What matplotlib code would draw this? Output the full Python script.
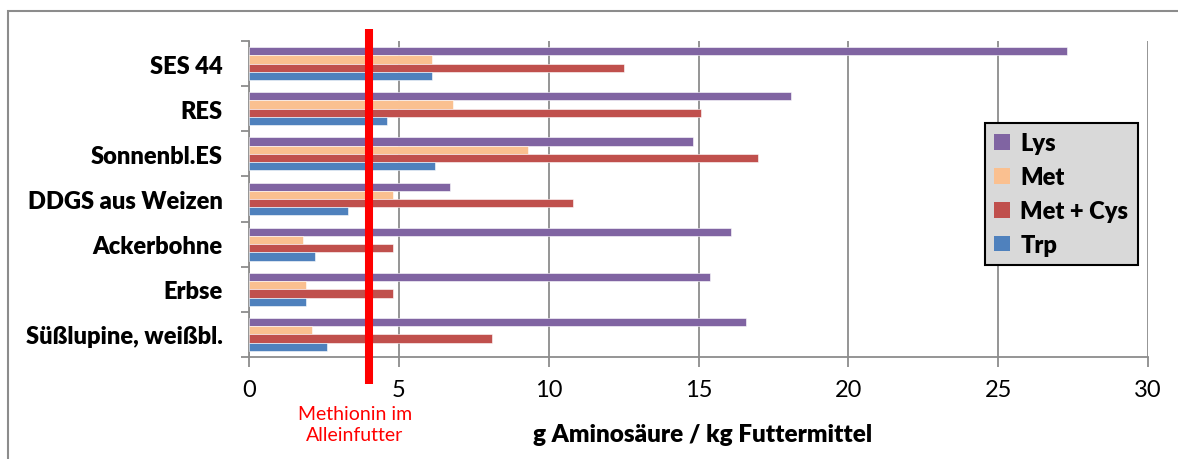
import numpy as np
import matplotlib
matplotlib.use("Agg")
import matplotlib.pyplot as plt
from matplotlib.patches import Rectangle
from matplotlib.transforms import blended_transform_factory

plt.rcParams['font.family'] = ['Lato', 'DejaVu Sans']

categories = ["SES 44", "RES", "Sonnenbl.ES", "DDGS aus Weizen",
              "Ackerbohne", "Erbse", "Süßlupine, weißbl."]
series = ["Lys", "Met", "Met + Cys", "Trp"]
lys = [27.3, 18.1, 14.8, 6.7, 16.1, 15.4, 16.6]
met = [6.1, 6.8, 9.3, 4.8, 1.8, 1.9, 2.1]
met_cys = [12.5, 15.1, 17.0, 10.8, 4.8, 4.8, 8.1]
trp = [6.1, 4.6, 6.2, 3.3, 2.2, 1.9, 2.6]
colors = ["#8064A2", "#FAC090", "#C0504D", "#4F81BD"]
met_limit = 4.0
xticks = [0, 5, 10, 15, 20, 25, 30]

W, H = 1178, 460
fig = plt.figure(figsize=(W / 100, H / 100), dpi=100)
ax = fig.add_axes([249 / W, (H - 358) / H, 899 / W, 316 / H])

n = len(categories)
pos = np.arange(n)[::-1]  # first category on top
bh = 0.182
offsets = [1.5 * bh, 0.5 * bh, -0.5 * bh, -1.5 * bh]
for vals, off, col, name in zip([lys, met, met_cys, trp], offsets, colors, series):
    ax.barh(pos + off, vals, height=bh, color=col, edgecolor='white',
            linewidth=0.4, label=name, zorder=3)

ax.set_xlim(0, 30)
ax.set_ylim(-0.5, n - 0.5)
ax.set_xticks(xticks)
ax.set_xticklabels([str(t) for t in xticks], fontsize=17)
ax.set_yticks(pos)
ax.set_yticklabels(categories, fontsize=17, fontweight='heavy')
ax.set_yticks(np.arange(n + 1) - 0.5, minor=True)
ax.tick_params(axis='y', which='major', length=0, pad=19)
ax.tick_params(axis='y', which='minor', length=6, width=1.3, color='#8c8c8c')
ax.tick_params(axis='x', length=7, width=1.3, color='#8c8c8c', pad=9)
ax.grid(axis='x', color='#8c8c8c', linewidth=1.3, zorder=0)
ax.set_axisbelow(True)
for s in ['top', 'right']:
    ax.spines[s].set_visible(False)
for s in ['left', 'bottom']:
    ax.spines[s].set_color('#8c8c8c')
    ax.spines[s].set_linewidth(1.3)

# red reference line for methionine in complete feed
tr = blended_transform_factory(ax.transData, ax.transAxes)
ax.plot([met_limit, met_limit], [-0.085, 1.038], color='#FF0000', lw=5.8,
        transform=tr, clip_on=False, zorder=5, solid_capstyle='butt')

fig.text(355 / W, 1 - 425 / H, "Methionin im\nAlleinfutter", color='#FF0000',
         fontsize=14, ha='center', va='center', linespacing=1.25)
fig.text(703 / W, 1 - 435 / H, "g Aminosäure / kg Futtermittel",
         fontsize=17.5, fontweight='heavy', ha='center', va='center')

leg = ax.legend(loc='upper left', bbox_to_anchor=((985 - 249) / 899, (358 - 124) / 316),
                borderaxespad=0, fancybox=False, edgecolor='black',
                facecolor='#D9D9D9', framealpha=1, prop={'weight': 'heavy', 'size': 17},
                handlelength=0.65, handleheight=0.65, handletextpad=0.45,
                labelspacing=0.5, borderpad=0.4)
leg.get_frame().set_linewidth(1.5)
for h in leg.legend_handles:
    h.set_edgecolor('none')

fig.patches.append(Rectangle((8 / W, -0.1), 2, (H - 12) / H + 0.1, fill=False,
                             edgecolor='#8c8c8c', linewidth=1.5,
                             transform=fig.transFigure, figure=fig))

fig.savefig("out.png", dpi=100)
